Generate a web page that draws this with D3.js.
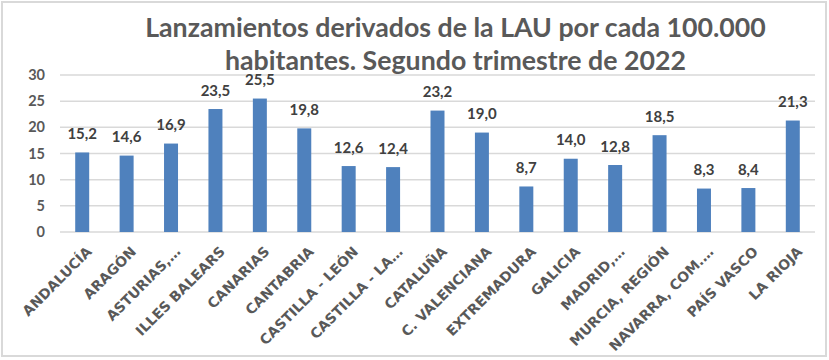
<!DOCTYPE html>
<html>
<head>
<meta charset="utf-8">
<script src="https://cdn.jsdelivr.net/npm/d3@7"></script>
<style>
  html, body { margin: 0; padding: 0; background: #fff; }
  svg { display: block; }
</style>
</head>
<body>
<svg id="chart" width="829" height="360"></svg>
<script>
const titleLines = ["Lanzamientos derivados de la LAU por cada 100.000", "habitantes. Segundo trimestre de 2022"];
const categories = ["ANDALUCÍA", "ARAGÓN", "ASTURIAS,…", "ILLES BALEARS", "CANARIAS", "CANTABRIA",
  "CASTILLA - LEÓN", "CASTILLA - LA…", "CATALUÑA", "C. VALENCIANA", "EXTREMADURA", "GALICIA",
  "MADRID,…", "MURCIA, REGIÓN", "NAVARRA, COM.…", "PAÍS VASCO", "LA RIOJA"];
const values = [15.2, 14.6, 16.9, 23.5, 25.5, 19.8, 12.6, 12.4, 23.2, 19.0, 8.7, 14.0, 12.8, 18.5, 8.3, 8.4, 21.3];
const yTicks = [0, 5, 10, 15, 20, 25, 30];

const svg = d3.select("#chart");
const W = 829, H = 360;
const plot = { left: 60, right: 815, top: 75, bottom: 232 };

svg.append("rect").attr("x", 0).attr("y", 0).attr("width", W).attr("height", H).attr("fill", "#fff");

const x = d3.scaleBand().domain(categories).range([plot.left, plot.right])
  .paddingInner(0.685).paddingOuter(0.3425);
const y = d3.scaleLinear().domain([0, 30]).range([plot.bottom, plot.top]);

// gridlines
svg.append("g").selectAll("line").data(yTicks).join("line")
  .attr("x1", plot.left).attr("x2", plot.right)
  .attr("y1", d => y(d)).attr("y2", d => y(d))
  .attr("stroke", "#d9d9d9").attr("stroke-width", 1.5);

// y axis labels
const yAxis = d3.axisLeft(y).tickValues(yTicks).tickSize(0).tickPadding(0).tickFormat(d3.format("d"));
const gy = svg.append("g").attr("transform", "translate(45,0)").call(yAxis);
gy.select(".domain").remove();
gy.selectAll("text").attr("font-family", "Lato, Carlito, sans-serif").attr("font-weight", "bold")
  .attr("font-size", 14.5).attr("fill", "#595959");

// bars
svg.append("g").selectAll("rect").data(values).join("rect")
  .attr("x", (d, i) => x(categories[i]))
  .attr("width", x.bandwidth())
  .attr("y", d => y(d))
  .attr("height", d => y(0) - y(d))
  .attr("fill", "#4f81bd");

// data labels
const fmt = v => v.toFixed(1).replace(".", ",");
svg.append("g").selectAll("text").data(values).join("text")
  .attr("x", (d, i) => x(categories[i]) + x.bandwidth() / 2)
  .attr("y", d => y(d) - 13.5)
  .attr("text-anchor", "middle")
  .attr("font-family", "Lato, Carlito, sans-serif").attr("font-weight", "bold")
  .attr("font-size", 15).attr("fill", "#404040")
  .text(fmt);

// x axis labels
const xAxis = d3.axisBottom(x).tickSize(0).tickPadding(0);
const gx = svg.append("g").attr("transform", `translate(0,${plot.bottom})`).call(xAxis);
gx.select(".domain").remove();
gx.selectAll(".tick text")
  .attr("font-family", "'DejaVu Sans', Verdana, sans-serif").attr("font-weight", "bold")
  .attr("font-size", 14).attr("fill", "#595959")
  .attr("text-anchor", "end")
  .attr("dy", "0.35em")
  .attr("transform", "translate(7,17) rotate(-45)")
  .attr("y", 0);

// title (with white box as in the reference)
svg.append("rect").attr("x", 140).attr("y", 8).attr("width", 635).attr("height", 66).attr("fill", "#fff");
const title = svg.append("g");
const tl = title.selectAll("text").data(titleLines).join("text")
  .attr("x", 455.5)
  .attr("y", (d, i) => 37 + i * 33)
  .attr("text-anchor", "middle")
  .attr("font-family", "Lato, Carlito, sans-serif").attr("font-weight", "bold")
  .attr("font-size", 26).attr("fill", "#595959")
  .text(d => d);
const w0 = tl.nodes()[0].getComputedTextLength();
const fs = 26 * 621 / w0;
tl.attr("font-size", fs);

// outer border
svg.append("rect").attr("x", 2).attr("y", 2).attr("width", 824).attr("height", 354)
  .attr("fill", "none").attr("stroke", "#d9d9d9").attr("stroke-width", 2);
</script>
</body>
</html>
